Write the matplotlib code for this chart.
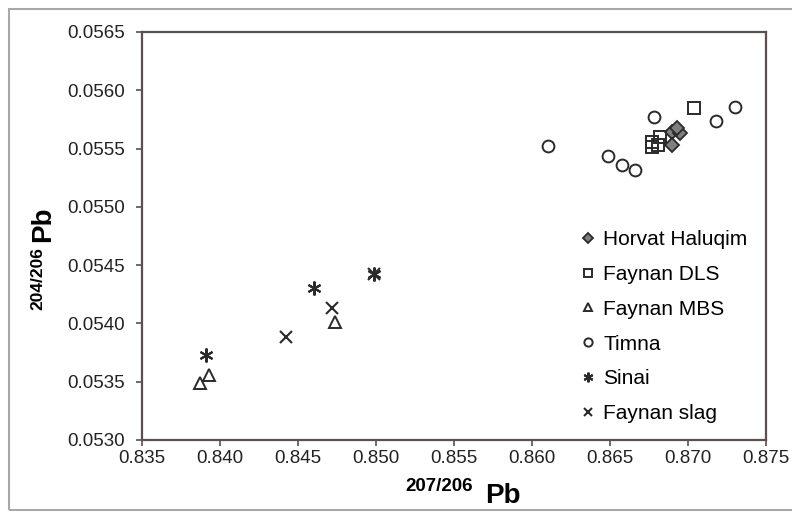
import matplotlib
matplotlib.use("Agg")
import matplotlib.pyplot as plt
from matplotlib.patches import Rectangle

plt.rcParams['font.family'] = ['Liberation Sans', 'DejaVu Sans']

# 207/206 Pb (x) and 204/206 Pb (y) for each group
horvat_x = [0.8690, 0.8695, 0.8690, 0.8693]
horvat_y = [0.05564, 0.05563, 0.05553, 0.05568]

dls_x = [0.8704, 0.8677, 0.8682, 0.8677, 0.8681]
dls_y = [0.05585, 0.05556, 0.05560, 0.05551, 0.05553]

mbs_x = [0.8474, 0.8393, 0.8387]
mbs_y = [0.05401, 0.05356, 0.05349]

timna_x = [0.8610, 0.8678, 0.8649, 0.8658, 0.8666, 0.8718, 0.8730]
timna_y = [0.05552, 0.05577, 0.05544, 0.05536, 0.05532, 0.05574, 0.05586]

sinai_x = [0.8391, 0.8460, 0.8499]
sinai_y = [0.05373, 0.05430, 0.05442]

slag_x = [0.8472, 0.8442, 0.8499]
slag_y = [0.05413, 0.05388, 0.05442]

xticks = [0.835, 0.840, 0.845, 0.850, 0.855, 0.860, 0.865, 0.870, 0.875]
yticks = [0.0530, 0.0535, 0.0540, 0.0545, 0.0550, 0.0555, 0.0560, 0.0565]

fig = plt.figure(figsize=(7.92, 5.15), dpi=100)
ax = fig.add_axes([142 / 792, 1 - 440 / 515, 624 / 792, 408 / 515])

edge = '#2a2a2a'
ax.plot(horvat_x, horvat_y, ls='none', marker='D', ms=7.5, mfc='#7f7f7f', mec=edge, mew=1.3, label='Horvat Haluqim')
ax.plot(dls_x, dls_y, ls='none', marker='s', ms=8, mfc='none', mec=edge, mew=1.4, label='Faynan DLS')
ax.plot(mbs_x, mbs_y, ls='none', marker='^', ms=9, mfc='none', mec=edge, mew=1.4, label='Faynan MBS')
ax.plot(timna_x, timna_y, ls='none', marker='o', ms=8.5, mfc='none', mec=edge, mew=1.4, label='Timna')
ax.plot(sinai_x, sinai_y, ls='none', marker=(6, 2, 0), ms=10, mec=edge, mew=1.5, label='Sinai')
ax.plot(slag_x, slag_y, ls='none', marker='x', ms=8, mec=edge, mew=1.5, label='Faynan slag')

ax.set_xlim(0.835, 0.875)
ax.set_ylim(0.0530, 0.0565)
ax.set_xticks(xticks)
ax.set_xticklabels(['%.3f' % v for v in xticks])
ax.set_yticks(yticks)
ax.set_yticklabels(['%.4f' % v for v in yticks])
ax.tick_params(labelsize=13.5, labelcolor='#222222', color='#5a5050', direction='out', length=4, width=1.2)
ax.tick_params(axis='y', pad=8)
for s in ax.spines.values():
    s.set_color('#5a5050')
    s.set_linewidth(1.6)

ax.legend(loc='lower right', bbox_to_anchor=(1.0, -0.005), frameon=False, fontsize=15,
          markerscale=0.7, handlelength=0.6, handletextpad=0.4, labelspacing=0.76)

# axis titles
fig.text(405 / 792, 1 - 491 / 515, '207/206', fontsize=13.5, fontweight='bold', ha='left', va='baseline')
fig.text(485 / 792, 1 - 503 / 515, 'Pb', fontsize=20, fontweight='bold', ha='left', va='baseline')
fig.text(42 / 792, 1 - 310 / 515, '204/206', fontsize=12.5, fontweight='bold', rotation=90,
         rotation_mode='anchor', ha='left', va='baseline')
fig.text(50 / 792, 1 - 242 / 515, 'Pb', fontsize=20, fontweight='bold', rotation=90,
         rotation_mode='anchor', ha='left', va='baseline')

# outer frame of the chart
fig.patches.append(Rectangle((9 / 792, 5 / 515), 1.0, 1 - 14 / 515, transform=fig.transFigure,
                             fill=False, edgecolor='#a8a8a8', linewidth=1.5))

fig.savefig('out.png', dpi=100)
